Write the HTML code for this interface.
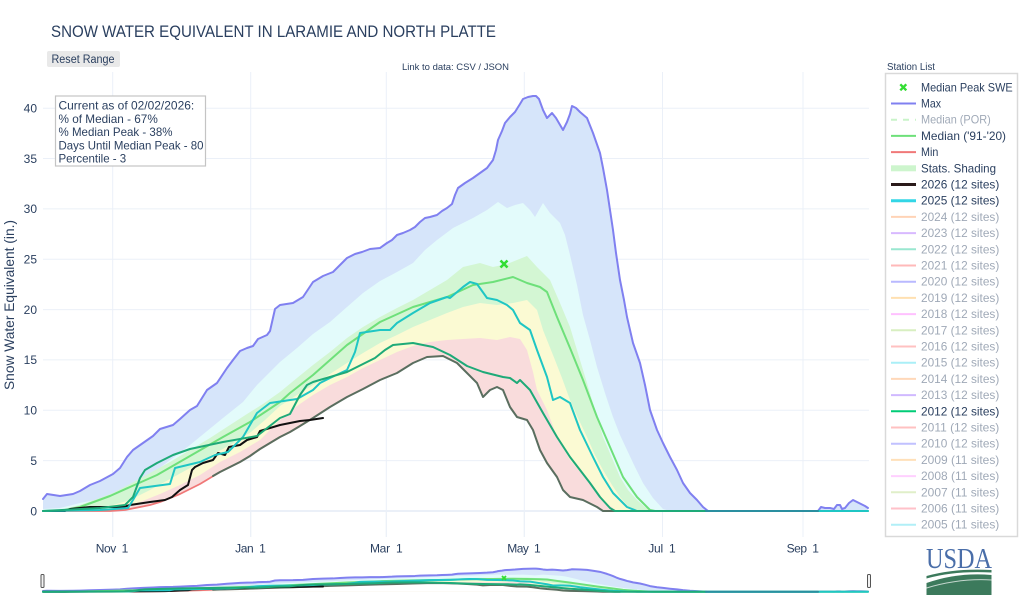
<!DOCTYPE html>
<html><head><meta charset="utf-8">
<style>
html,body{margin:0;padding:0;background:#fff;overflow:hidden;}
svg{display:block;font-family:"Liberation Sans",Arial,sans-serif;}
.ln{fill:none;stroke-linejoin:round;stroke-linecap:round;vector-effect:non-scaling-stroke;}
</style></head>
<body>
<svg width="1023" height="597" viewBox="0 0 1023 597" xmlns="http://www.w3.org/2000/svg">
<defs>
<clipPath id="cm"><path d="M43,511 L110,511 125,510 140,507 150,505 160,502 170,498 180,494 190,489 200,484 210,478 220,472 230,467 240,462 250,456 260,449 270,443 280,437 290,432 300,426 313,418 330,407 347,397 363,389 380,380 397,373 413,363 427,357 443,356 457,363 467,373 477,383 483,397 490,390 497,387 503,390 510,407 517,417 527,420 533,430 540,450 547,463 557,477 563,490 570,497 583,500 597,507 603,511 869,511 869,537 43,537 Z"/></clipPath>
</defs>

<!-- gridlines -->
<g id="grid" stroke="#ebf0f8" stroke-width="1" fill="none">
<line x1="43" x2="869" y1="460.6" y2="460.6"/>
<line x1="43" x2="869" y1="410.3" y2="410.3"/>
<line x1="43" x2="869" y1="359.9" y2="359.9"/>
<line x1="43" x2="869" y1="309.6" y2="309.6"/>
<line x1="43" x2="869" y1="259.2" y2="259.2"/>
<line x1="43" x2="869" y1="208.9" y2="208.9"/>
<line x1="43" x2="869" y1="158.5" y2="158.5"/>
<line x1="43" x2="869" y1="108.2" y2="108.2"/>
<line x1="112.7" x2="112.7" y1="72" y2="537"/>
<line x1="250.7" x2="250.7" y1="72" y2="537"/>
<line x1="386.3" x2="386.3" y1="72" y2="537"/>
<line x1="524.3" x2="524.3" y1="72" y2="537"/>
<line x1="662.5" x2="662.5" y1="72" y2="537"/>
<line x1="803" x2="803" y1="72" y2="537"/>
<line x1="43" x2="869" y1="511" y2="511" stroke-width="2"/>
</g>

<g id="content">
<!-- Max fill -->
<path fill="#d6e5fa" d="M43,511 L43,499 47,494 60,496 73,494 80,491 90,485 100,481 113,474 120,468 127,457 133,450 143,443 153,436 160,429 173,425 180,419 190,410 197,406 207,390 217,383 227,368 233,360 240,351 247,348 253,346 258,339 267,335 270,331 275,309 280,305 293,303 303,297 313,282 323,276 333,272 340,265 347,258 355,254 362,252 370,249 380,248 387,243 392,240 397,235 403,233 410,230 415,227 420,222 425,218 430,217 437,215 442,211 447,208 452,204 455,195 458,188 465,183 473,178 480,173 487,168 493,160 496,150 498,140 502,131 505,123 510,117 515,112 520,104 523,99 528,97 533,96 536,96 539,99 543,110 547,118 552,113 556,118 563,130 567,122 570,114 572,106 576,108 580,112 587,118 593,133 600,153 603,168 607,190 610,210 613,230 616,253 620,280 624,300 627,317 630,330 633,343 640,363 645,385 650,410 657,430 663,443 670,457 677,470 683,483 690,493 697,500 703,507 708,511 818,511 821,507 825,508 830,508 834,509 837,505 840,505 842,509 845,508 849,503 853,500 857,502 861,504 865,506 868,508 868,511 Z"/>
<!-- P90 fill (cyan) -->
<path fill="#e3fbfb" d="M43,511 L43,509 60,508 80,503 100,499 113,494 130,487 157,470 190,445 223,418 243,402 257,385 280,362 297,348 313,334 330,322 347,307 363,293 380,281 397,272 413,263 425,250 437,240 453,228 473,218 487,210 498,202 507,208 515,205 523,203 530,210 535,217 543,203 550,213 560,223 565,235 570,255 577,285 583,315 590,340 597,367 605,393 613,417 620,435 627,450 635,467 643,483 653,498 663,509 670,511 Z"/>
<!-- P70 fill (green) -->
<path fill="#d3f6d3" d="M43,511 L60,510 80,505 100,498 113,493 130,484 150,473 170,462 190,450 210,438 230,425 247,414 263,404 280,392 297,378 313,365 330,352 347,338 363,327 380,317 397,308 413,300 430,290 447,280 463,267 480,263 493,267 507,264 517,260 527,256 537,267 550,280 560,303 570,327 580,360 587,383 595,410 603,437 612,458 620,477 628,490 637,500 645,507 652,511 Z"/>
<!-- P50 fill (yellow) -->
<path fill="#fbfad3" d="M43,511 L70,511 90,509 113,505 130,500 150,490 170,479 190,468 210,456 230,445 251,432 265,420 280,406 297,395 313,385 330,374 347,363 363,353 380,343 397,335 413,327 430,320 447,313 463,307 480,303 497,305 513,303 527,300 537,310 543,330 553,355 562,378 570,400 578,418 587,437 595,455 603,470 612,485 620,497 627,505 633,511 Z"/>
<!-- P30 fill (pink) -->
<path fill="#f9dcdc" d="M43,511 L100,511 120,508 140,502 160,494 180,485 200,475 220,462 240,452 260,440 280,420 297,406 313,395 330,385 347,377 363,368 380,360 397,352 413,346 430,342 447,340 463,339 480,338 497,340 510,337 520,339 527,350 533,372 537,390 542,400 547,410 557,437 570,460 587,480 603,500 610,506 617,511 Z"/>
<!-- white under min -->
<path fill="#ffffff" d="M43,511 L110,511 125,510 140,507 150,505 160,502 170,498 180,494 190,489 200,484 210,478 220,472 230,467 240,462 250,456 260,449 270,443 280,437 290,432 300,426 313,418 330,407 347,397 363,389 380,380 397,373 413,363 427,357 443,356 457,363 467,373 477,383 483,397 490,390 497,387 503,390 510,407 517,417 527,420 533,430 540,450 547,463 557,477 563,490 570,497 583,500 597,507 603,511 Z"/>
</g>

<!-- gridlines visible in white area under min -->
<use href="#grid" clip-path="url(#cm)"/>

<g id="lines">
<!-- Max -->
<path class="ln" stroke="#8080f0" stroke-width="2" d="M43,499 L47,494 60,496 73,494 80,491 90,485 100,481 113,474 120,468 127,457 133,450 143,443 153,436 160,429 173,425 180,419 190,410 197,406 207,390 217,383 227,368 233,360 240,351 247,348 253,346 258,339 267,335 270,331 275,309 280,305 293,303 303,297 313,282 323,276 333,272 340,265 347,258 355,254 362,252 370,249 380,248 387,243 392,240 397,235 403,233 410,230 415,227 420,222 425,218 430,217 437,215 442,211 447,208 452,204 455,195 458,188 465,183 473,178 480,173 487,168 493,160 496,150 498,140 502,131 505,123 510,117 515,112 520,104 523,99 528,97 533,96 536,96 539,99 543,110 547,118 552,113 556,118 563,130 567,122 570,114 572,106 576,108 580,112 587,118 593,133 600,153 603,168 607,190 610,210 613,230 616,253 620,280 624,300 627,317 630,330 633,343 640,363 645,385 650,410 657,430 663,443 670,457 677,470 683,483 690,493 697,500 703,507 708,511 818,511 821,507 825,508 830,508 834,509 837,505 840,505 842,509 845,508 849,503 853,500 857,502 861,504 865,506 868,508"/>
<!-- Median 91-20 -->
<path class="ln" stroke="#6ee07a" stroke-width="2" d="M60,511 L80,507 110,496 130,487 157,475 190,456 223,437 250,422 280,402 290,393 313,375 347,345 380,322 413,307 447,297 473,285 493,282 513,277 527,283 540,287 547,292 557,317 570,348 583,380 597,417 610,447 623,477 637,497 650,510 655,511 868,511"/>
<!-- Min -->
<path class="ln" stroke="#f07878" stroke-width="1.8" d="M43,511 L110,511 125,510 140,507 150,505 160,502 170,498 180,494 190,489 200,484 210,478 220,472 230,467 240,462 250,456 260,449 270,443 280,437 290,432 300,426 313,418"/>
<!-- dark lower line -->
<path class="ln" stroke="#5a6e5f" stroke-width="2" d="M213,476 L220,472 230,467 240,462 250,456 260,449 270,443 280,437 290,432 300,426 313,418 330,407 347,397 363,389 380,380 397,373 413,363 427,357 443,356 457,363 467,373 477,383 483,397 490,390 497,387 503,390 510,407 517,417 527,420 533,430 540,450 547,463 557,477 563,490 570,497 583,500 597,507 603,511 620,511"/>
<!-- 2026 -->
<path class="ln" stroke="#111111" stroke-width="2" d="M43,511 L65,511 70,509 90,507 123,507 130,505 150,502 165,500 172,497 180,490 188,485 192,470 195,467 203,463 213,460 218,453 225,455 229,447 240,445 247,440 257,437 260,431 270,428 280,425 290,423 300,421 310,420 323,418"/>
<!-- 2025 -->
<path class="ln" stroke="#1fc6c4" stroke-width="2" d="M43,511 L100,510 128,508 133,500 140,488 170,484 175,468 200,462 215,455 228,452 243,437 257,413 270,403 297,399 313,390 320,383 330,378 347,370 355,352 360,333 380,330 390,330 397,323 413,313 430,303 447,297 450,298 463,287 470,282 477,284 487,298 497,300 507,305 513,310 520,323 530,330 537,350 547,377 553,400 560,397 570,403 580,430 593,457 603,477 613,493 627,507 637,511 868,511"/>
<!-- 2012 -->
<path class="ln" stroke="#1eaa78" stroke-width="2" d="M43,511 L100,508 125,505 133,497 140,478 145,470 157,463 173,455 190,449 223,442 257,436 280,418 290,414 300,395 307,385 313,382 330,377 347,372 363,364 375,358 385,350 393,345 413,343 433,347 450,355 467,366 483,372 503,377 510,378 517,383 520,380 530,390 543,413 557,437 570,457 580,470 590,483 600,497 610,508 615,511 706,511"/>
<path class="ln" stroke="#2a8fa0" stroke-width="2" d="M706,511 L818,511"/>
</g>

<!-- median peak marker -->
<path d="M500.5,260.5 L507.5,267.5 M507.5,260.5 L500.5,267.5" stroke="#33dd33" stroke-width="2.6" fill="none"/>

<!-- range slider mini chart -->
<g transform="translate(0,563.34) scale(1,0.0555)">
<use href="#content"/>
<use href="#lines"/>
</g>
<path d="M502,576 L506,580 M506,576 L502,580" stroke="#33dd33" stroke-width="1.8" fill="none"/>
<rect x="41" y="574.5" width="3" height="13" rx="1" fill="#f2f2f2" stroke="#555" stroke-width="1"/>
<rect x="867.5" y="574.5" width="3" height="13" rx="1" fill="#f2f2f2" stroke="#555" stroke-width="1"/>

<!-- annotation box -->
<rect x="55.5" y="96" width="150" height="70" fill="#ffffff" stroke="#c4c4c4" stroke-width="1.2"/>
<g font-size="12" fill="#2a3f5f" lengthAdjust="spacingAndGlyphs">
<text x="58.5" y="109.5" textLength="135.7" lengthAdjust="spacingAndGlyphs">Current as of 02/02/2026:</text>
<text x="58.5" y="122.8" textLength="99.3" lengthAdjust="spacingAndGlyphs">% of Median - 67%</text>
<text x="58.5" y="136" textLength="114" lengthAdjust="spacingAndGlyphs">% Median Peak - 38%</text>
<text x="58.5" y="149.3" textLength="145" lengthAdjust="spacingAndGlyphs">Days Until Median Peak - 80</text>
<text x="58.5" y="162.5" textLength="67.7" lengthAdjust="spacingAndGlyphs">Percentile - 3</text>
</g>

<!-- title & header -->
<text x="51" y="37" font-size="16.5" fill="#2a3f5f" textLength="445" lengthAdjust="spacingAndGlyphs">SNOW WATER EQUIVALENT IN LARAMIE AND NORTH PLATTE</text>
<rect x="47" y="51" width="73" height="16" rx="2" fill="#e9e9e9"/>
<text x="51.5" y="62.8" font-size="11.5" fill="#2a3f5f" textLength="63" lengthAdjust="spacingAndGlyphs">Reset Range</text>
<text x="402" y="70" font-size="9.5" fill="#2a3f5f" textLength="107" lengthAdjust="spacingAndGlyphs">Link to data: CSV / JSON</text>
<text x="887" y="70" font-size="10" fill="#2a3f5f" textLength="48" lengthAdjust="spacingAndGlyphs">Station List</text>

<!-- y ticks -->
<g font-size="12" fill="#2a3f5f" text-anchor="end">
<text x="37" y="515.3">0</text>
<text x="37" y="464.9">5</text>
<text x="37" y="414.6">10</text>
<text x="37" y="364.2">15</text>
<text x="37" y="313.9">20</text>
<text x="37" y="263.5">25</text>
<text x="37" y="213.2">30</text>
<text x="37" y="162.8">35</text>
<text x="37" y="112.5">40</text>
</g>
<!-- x ticks -->
<g font-size="12" fill="#2a3f5f" text-anchor="middle">
<text x="112" y="552.5" textLength="32.6" lengthAdjust="spacing" xml:space="preserve">Nov  1</text>
<text x="250.5" y="552.5" textLength="30.7" lengthAdjust="spacing" xml:space="preserve">Jan  1</text>
<text x="386.3" y="552.5" textLength="32.7" lengthAdjust="spacing" xml:space="preserve">Mar  1</text>
<text x="524" y="552.5" textLength="33.4" lengthAdjust="spacing" xml:space="preserve">May  1</text>
<text x="662" y="552.5" textLength="27.4" lengthAdjust="spacing" xml:space="preserve">Jul  1</text>
<text x="802.8" y="552.5" textLength="32.3" lengthAdjust="spacing" xml:space="preserve">Sep  1</text>
</g>
<!-- y title -->
<text transform="translate(14,305) rotate(-90)" text-anchor="middle" font-size="14" fill="#2a3f5f" textLength="170" lengthAdjust="spacingAndGlyphs">Snow Water Equivalent (in.)</text>

<!-- legend -->
<rect x="885.5" y="73.5" width="132" height="463" fill="#ffffff" stroke="#d9d9d9" stroke-width="1.5"/>
<g font-size="12" fill="#2a3f5f">
<path d="M900.3,84.3 L906.3,90.3 M906.3,84.3 L900.3,90.3" stroke="#33dd33" stroke-width="2.4" fill="none"/>
<text x="921" y="91.3" textLength="91.7" lengthAdjust="spacingAndGlyphs">Median Peak SWE</text>
<line x1="891" x2="916" y1="103.5" y2="103.5" stroke="#8080f0" stroke-width="2"/>
<text x="921" y="107.5" textLength="20" lengthAdjust="spacingAndGlyphs">Max</text>
<g opacity="0.45"><line x1="891" x2="916" y1="119.7" y2="119.7" stroke="#88e888" stroke-width="2" stroke-dasharray="6,6"/>
<text x="921" y="123.7" textLength="69.7" lengthAdjust="spacingAndGlyphs">Median (POR)</text></g>
<line x1="891" x2="916" y1="135.9" y2="135.9" stroke="#6ee07a" stroke-width="2"/>
<text x="921" y="139.9" textLength="85" lengthAdjust="spacingAndGlyphs">Median ('91-'20)</text>
<line x1="891" x2="916" y1="152.1" y2="152.1" stroke="#f07878" stroke-width="2"/>
<text x="921" y="156.1" textLength="17.3" lengthAdjust="spacingAndGlyphs">Min</text>
<rect x="891" y="165.3" width="25" height="6" fill="#cdf5cd"/>
<text x="921" y="172.3" textLength="75" lengthAdjust="spacingAndGlyphs">Stats. Shading</text>
<line x1="891" x2="916" y1="184.5" y2="184.5" stroke="#2a1a1a" stroke-width="3"/>
<text x="921" y="188.5" textLength="78.3" lengthAdjust="spacingAndGlyphs">2026 (12 sites)</text>
<line x1="891" x2="916" y1="200.7" y2="200.7" stroke="#33d6e6" stroke-width="3"/>
<text x="921" y="204.7" textLength="78.3" lengthAdjust="spacingAndGlyphs">2025 (12 sites)</text>
<g opacity="0.45">
<line x1="891" x2="916" y1="216.9" y2="216.9" stroke="#ffa060" stroke-width="2"/><text x="921" y="220.9" textLength="78.3" lengthAdjust="spacingAndGlyphs">2024 (12 sites)</text>
<line x1="891" x2="916" y1="233.1" y2="233.1" stroke="#aa66ff" stroke-width="2"/><text x="921" y="237.1" textLength="78.3" lengthAdjust="spacingAndGlyphs">2023 (12 sites)</text>
<line x1="891" x2="916" y1="249.3" y2="249.3" stroke="#22cc99" stroke-width="2"/><text x="921" y="253.3" textLength="78.3" lengthAdjust="spacingAndGlyphs">2022 (12 sites)</text>
<line x1="891" x2="916" y1="265.5" y2="265.5" stroke="#ff6666" stroke-width="2"/><text x="921" y="269.5" textLength="78.3" lengthAdjust="spacingAndGlyphs">2021 (12 sites)</text>
<line x1="891" x2="916" y1="281.7" y2="281.7" stroke="#6666ff" stroke-width="2"/><text x="921" y="285.7" textLength="78.3" lengthAdjust="spacingAndGlyphs">2020 (12 sites)</text>
<line x1="891" x2="916" y1="297.9" y2="297.9" stroke="#ffbb55" stroke-width="2"/><text x="921" y="301.9" textLength="78.3" lengthAdjust="spacingAndGlyphs">2019 (12 sites)</text>
<line x1="891" x2="916" y1="314.1" y2="314.1" stroke="#ff77ff" stroke-width="2"/><text x="921" y="318.1" textLength="78.3" lengthAdjust="spacingAndGlyphs">2018 (12 sites)</text>
<line x1="891" x2="916" y1="330.3" y2="330.3" stroke="#aadd77" stroke-width="2"/><text x="921" y="334.3" textLength="78.3" lengthAdjust="spacingAndGlyphs">2017 (12 sites)</text>
<line x1="891" x2="916" y1="346.5" y2="346.5" stroke="#ff7777" stroke-width="2"/><text x="921" y="350.5" textLength="78.3" lengthAdjust="spacingAndGlyphs">2016 (12 sites)</text>
<line x1="891" x2="916" y1="362.7" y2="362.7" stroke="#44ddee" stroke-width="2"/><text x="921" y="366.7" textLength="78.3" lengthAdjust="spacingAndGlyphs">2015 (12 sites)</text>
<line x1="891" x2="916" y1="378.9" y2="378.9" stroke="#ffaa66" stroke-width="2"/><text x="921" y="382.9" textLength="78.3" lengthAdjust="spacingAndGlyphs">2014 (12 sites)</text>
<line x1="891" x2="916" y1="395.1" y2="395.1" stroke="#9966ff" stroke-width="2"/><text x="921" y="399.1" textLength="78.3" lengthAdjust="spacingAndGlyphs">2013 (12 sites)</text>
</g>
<line x1="891" x2="916" y1="411.3" y2="411.3" stroke="#00cc77" stroke-width="2"/>
<text x="921" y="415.3" textLength="78.3" lengthAdjust="spacingAndGlyphs">2012 (12 sites)</text>
<g opacity="0.45">
<line x1="891" x2="916" y1="427.5" y2="427.5" stroke="#ff7777" stroke-width="2"/><text x="921" y="431.5" textLength="78.3" lengthAdjust="spacingAndGlyphs">2011 (12 sites)</text>
<line x1="891" x2="916" y1="443.7" y2="443.7" stroke="#7777ff" stroke-width="2"/><text x="921" y="447.7" textLength="78.3" lengthAdjust="spacingAndGlyphs">2010 (12 sites)</text>
<line x1="891" x2="916" y1="459.9" y2="459.9" stroke="#ffbb66" stroke-width="2"/><text x="921" y="463.9" textLength="78.3" lengthAdjust="spacingAndGlyphs">2009 (11 sites)</text>
<line x1="891" x2="916" y1="476.1" y2="476.1" stroke="#ff99ff" stroke-width="2"/><text x="921" y="480.1" textLength="78.3" lengthAdjust="spacingAndGlyphs">2008 (11 sites)</text>
<line x1="891" x2="916" y1="492.3" y2="492.3" stroke="#bbdd88" stroke-width="2"/><text x="921" y="496.3" textLength="78.3" lengthAdjust="spacingAndGlyphs">2007 (11 sites)</text>
<line x1="891" x2="916" y1="508.5" y2="508.5" stroke="#ff7788" stroke-width="2"/><text x="921" y="512.5" textLength="78.3" lengthAdjust="spacingAndGlyphs">2006 (11 sites)</text>
<line x1="891" x2="916" y1="524.7" y2="524.7" stroke="#55ddee" stroke-width="2"/><text x="921" y="528.7" textLength="78.3" lengthAdjust="spacingAndGlyphs">2005 (11 sites)</text>
</g>
</g>

<!-- USDA logo -->
<text x="926" y="568" font-family="Liberation Serif, serif" font-size="28" fill="#4a6ea9" textLength="66" lengthAdjust="spacingAndGlyphs">USDA</text>
<path d="M926.5,576 Q955,568 991.5,570 L991.5,572.5 Q955,570.5 926.5,578.5 Z" fill="#3c7a5c"/>
<path d="M926.5,583 Q958,572 991.5,575 L991.5,595 L926.5,595 Z" fill="#3c7a5c"/>
<path d="M926.5,588 Q960,578 991.5,580" stroke="#ffffff" stroke-width="1" fill="none" opacity="0.7"/>
</svg>
</body></html>
